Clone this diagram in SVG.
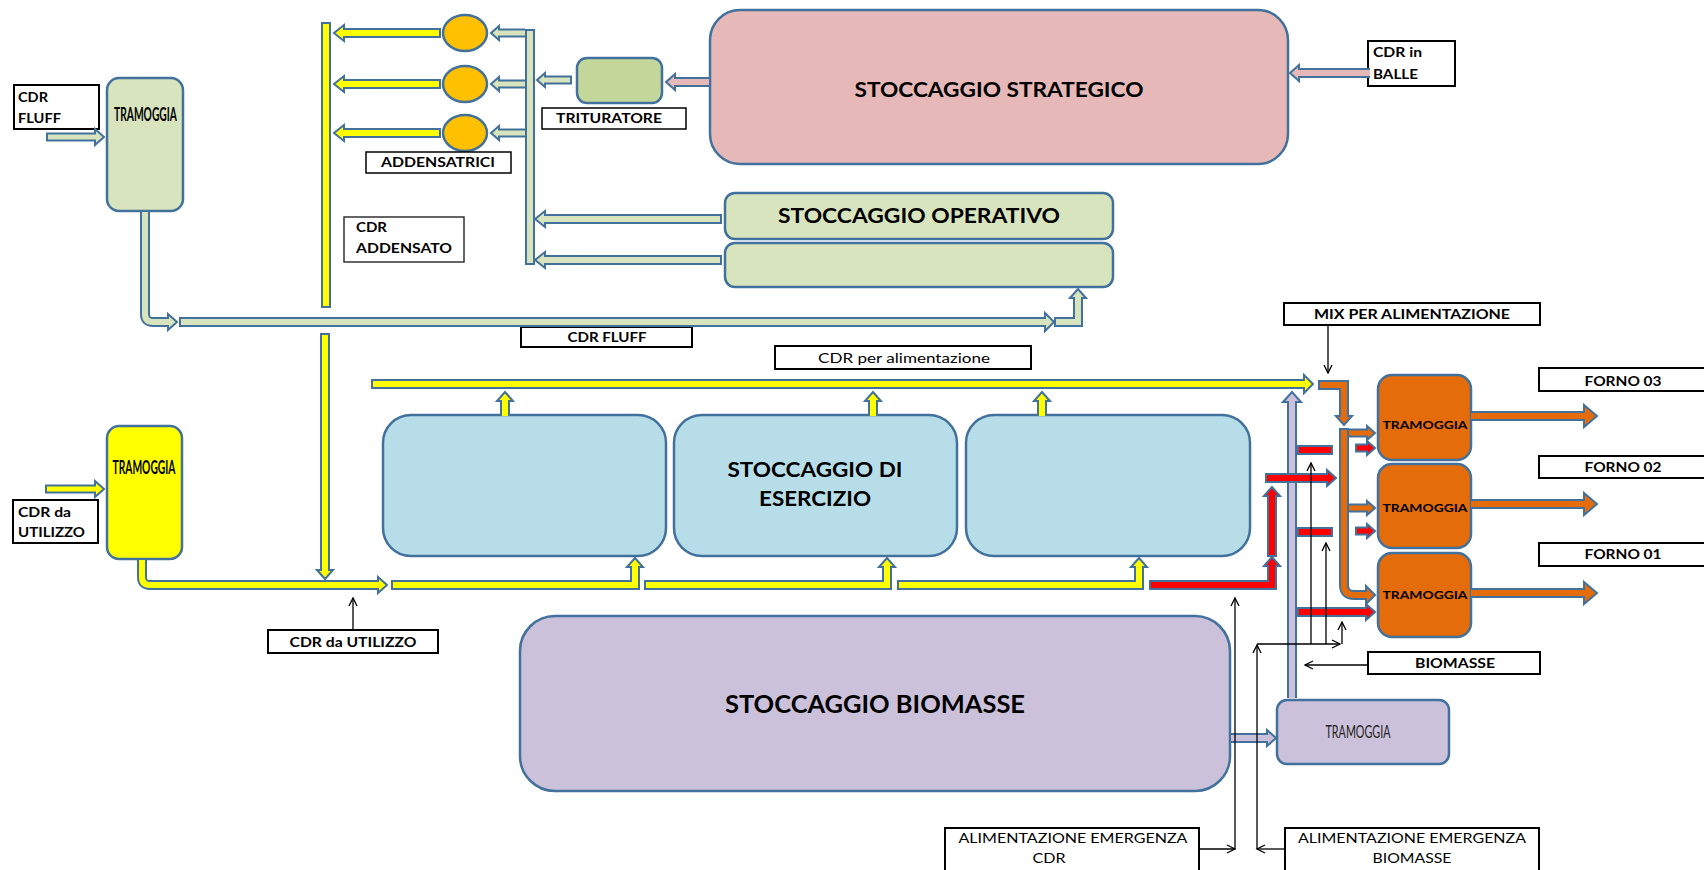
<svg xmlns="http://www.w3.org/2000/svg" width="1704" height="870" viewBox="0 0 1704 870">
<defs>
<marker id="ah" markerUnits="userSpaceOnUse" markerWidth="12" markerHeight="12" refX="9" refY="5" orient="auto"><path d="M1,1 L9,5 L1,9" fill="none" stroke="#000" stroke-width="1.3"/></marker>
</defs>
<style>
.nd{stroke:#41719c;stroke-width:2.5}
.lbl{fill:#fff;stroke:#000;stroke-width:2}
.t{font-family:Lato,"Open Sans","Liberation Sans",sans-serif;fill:#000;font-size:14px}
.b{font-weight:700}
.m{text-anchor:middle}
.o{fill:none;stroke:#41719c;stroke-width:10;stroke-linejoin:miter}
.os{fill:none;stroke:#41719c;stroke-width:9;stroke-linejoin:miter}
.i{fill:none;stroke-width:6;stroke-linejoin:miter}
.is{fill:none;stroke-width:5;stroke-linejoin:miter}
.h{stroke:#41719c;stroke-width:2;stroke-linejoin:miter}
.cy{stroke:#ffff00}.fy{fill:#ffff00}
.cg{stroke:#d7e4bd}.fg{fill:#d7e4bd}
.cp{stroke:#e6b8b7}.fp{fill:#e6b8b7}
.cr{stroke:#ff0000}.fr{fill:#ff0000}
.co{stroke:#e46c0a}.fo{fill:#e46c0a}
.cl{stroke:#ccc1da}.fl{fill:#ccc1da}
.thin{fill:none;stroke:#000;stroke-width:1.3;marker-end:url(#ah)}
</style>
<rect width="1704" height="870" fill="#fff"/>

<g id="cdr-fluff-in">
<rect class="lbl" x="14" y="85" width="85" height="44"/>
<text class="t b" x="18" y="102" textLength="30" lengthAdjust="spacingAndGlyphs">CDR</text>
<text class="t b" x="18" y="123" textLength="43" lengthAdjust="spacingAndGlyphs">FLUFF</text>
</g>
<g id="tramoggia-fluff">
<rect class="nd" x="107" y="78" width="76" height="133" rx="12" fill="#d7e4bd"/>
<text class="t b m" x="145.5" y="121" textLength="63" lengthAdjust="spacingAndGlyphs" style="font-size:18px">TRAMOGGIA</text>
</g>
<g id="addensatrici">
<ellipse class="nd" cx="465" cy="33" rx="22" ry="18" fill="#ffc000"/>
<ellipse class="nd" cx="465" cy="84" rx="22" ry="18" fill="#ffc000"/>
<ellipse class="nd" cx="465" cy="133" rx="22" ry="18" fill="#ffc000"/>
<rect class="lbl" x="366" y="152" width="145" height="21" style="stroke-width:1.5"/>
<text class="t b m" x="438" y="167" textLength="114" lengthAdjust="spacingAndGlyphs">ADDENSATRICI</text>
</g>
<g id="cdr-addensato">
<rect class="lbl" x="344" y="217" width="120" height="45" style="stroke:#333;stroke-width:1.5"/>
<text class="t b" x="356" y="232" textLength="31" lengthAdjust="spacingAndGlyphs">CDR</text>
<text class="t b" x="356" y="253" textLength="96" lengthAdjust="spacingAndGlyphs">ADDENSATO</text>
</g>
<g id="trituratore">
<rect class="nd" x="577" y="58" width="85" height="45" rx="10" fill="#c4d79b"/>
<rect class="lbl" x="542" y="108" width="144" height="21" style="stroke-width:1.5"/>
<text class="t b m" x="609" y="123" textLength="106" lengthAdjust="spacingAndGlyphs">TRITURATORE</text>
</g>
<g id="stoccaggio-strategico">
<rect class="nd" x="710" y="10" width="578" height="154" rx="30" fill="#e6b8b7"/>
<text class="t b m" x="999" y="97" textLength="289" lengthAdjust="spacingAndGlyphs" style="font-size:21px">STOCCAGGIO STRATEGICO</text>
</g>
<g id="cdr-balle">
<rect class="lbl" x="1368" y="41" width="87" height="45"/>
<text class="t b" x="1373" y="57" textLength="49" lengthAdjust="spacingAndGlyphs">CDR in</text>
<text class="t b" x="1373" y="79" textLength="45" lengthAdjust="spacingAndGlyphs">BALLE</text>
</g>
<g id="stoccaggio-operativo">
<rect class="nd" x="725" y="193" width="388" height="46" rx="10" fill="#d7e4bd"/>
<rect class="nd" x="725" y="243" width="388" height="44" rx="10" fill="#d7e4bd"/>
<text class="t b m" x="919" y="223" textLength="282" lengthAdjust="spacingAndGlyphs" style="font-size:20px">STOCCAGGIO OPERATIVO</text>
</g>
<g id="label-cdr-fluff">
<rect class="lbl" x="521" y="327" width="171" height="20"/>
<text class="t b m" x="607" y="342" textLength="79" lengthAdjust="spacingAndGlyphs" style="font-size:13px">CDR FLUFF</text>
</g>
<g id="label-cdr-alimentazione">
<rect class="lbl" x="775" y="346" width="256" height="23"/>
<text class="t m" x="904" y="363" textLength="172" lengthAdjust="spacingAndGlyphs" style="font-size:14px">CDR per alimentazione</text>
</g>
<g id="stoccaggio-esercizio">
<rect class="nd" x="383" y="415" width="283" height="141" rx="28" fill="#b7dee8"/>
<rect class="nd" x="674" y="415" width="283" height="141" rx="28" fill="#b7dee8"/>
<rect class="nd" x="966" y="415" width="284" height="141" rx="28" fill="#b7dee8"/>
<text class="t b m" x="815" y="477" textLength="175" lengthAdjust="spacingAndGlyphs" style="font-size:20px">STOCCAGGIO DI</text>
<text class="t b m" x="815" y="506" textLength="112" lengthAdjust="spacingAndGlyphs" style="font-size:20px">ESERCIZIO</text>
</g>
<g id="tramoggia-utilizzo">
<rect class="nd" x="107" y="426" width="75" height="133" rx="12" fill="#ffff00"/>
<text class="t b m" x="144" y="474" textLength="63" lengthAdjust="spacingAndGlyphs" style="font-size:18px">TRAMOGGIA</text>
</g>
<g id="cdr-utilizzo-in">
<rect class="lbl" x="13" y="500" width="85" height="43"/>
<text class="t b" x="18" y="517" textLength="53" lengthAdjust="spacingAndGlyphs">CDR da</text>
<text class="t b" x="18" y="537" textLength="67" lengthAdjust="spacingAndGlyphs">UTILIZZO</text>
</g>
<g id="label-cdr-utilizzo">
<rect class="lbl" x="268" y="630" width="170" height="23"/>
<text class="t b m" x="353" y="647" textLength="127" lengthAdjust="spacingAndGlyphs">CDR da UTILIZZO</text>
</g>
<g id="stoccaggio-biomasse">
<rect class="nd" x="520" y="616" width="710" height="175" rx="35" fill="#ccc1da"/>
<text class="t b m" x="875" y="713" textLength="300" lengthAdjust="spacingAndGlyphs" style="font-size:24px">STOCCAGGIO BIOMASSE</text>
</g>
<g id="tramoggia-biomasse">
<rect class="nd" x="1277" y="700" width="172" height="64" rx="10" fill="#ccc1da"/>
<text class="t m" x="1358" y="738" textLength="65" lengthAdjust="spacingAndGlyphs" style="font-size:17px;fill:#222">TRAMOGGIA</text>
</g>
<g id="mix-alimentazione">
<rect class="lbl" x="1284" y="303" width="256" height="22"/>
<text class="t b m" x="1412" y="319" textLength="196" lengthAdjust="spacingAndGlyphs" style="font-size:13px">MIX PER ALIMENTAZIONE</text>
</g>
<g id="forno-03">
<rect class="lbl" x="1539" y="368" width="170" height="23"/>
<text class="t b m" x="1623" y="386" textLength="77" lengthAdjust="spacingAndGlyphs">FORNO 03</text>
</g>
<g id="forno-02">
<rect class="lbl" x="1539" y="456" width="170" height="22"/>
<text class="t b m" x="1623" y="472" textLength="77" lengthAdjust="spacingAndGlyphs">FORNO 02</text>
</g>
<g id="forno-01">
<rect class="lbl" x="1539" y="543" width="170" height="23"/>
<text class="t b m" x="1623" y="559" textLength="77" lengthAdjust="spacingAndGlyphs">FORNO 01</text>
</g>
<g id="tramoggia-forno03">
<rect class="nd" x="1378" y="375" width="93" height="85" rx="14" fill="#e46c0a"/>
<text class="t b m" x="1425" y="429" textLength="85" lengthAdjust="spacingAndGlyphs" style="font-size:12px">TRAMOGGIA</text>
</g>
<g id="tramoggia-forno02">
<rect class="nd" x="1378" y="464" width="93" height="84" rx="14" fill="#e46c0a"/>
<text class="t b m" x="1425" y="512" textLength="85" lengthAdjust="spacingAndGlyphs" style="font-size:12px">TRAMOGGIA</text>
</g>
<g id="tramoggia-forno01">
<rect class="nd" x="1378" y="553" width="93" height="84" rx="14" fill="#e46c0a"/>
<text class="t b m" x="1425" y="599" textLength="85" lengthAdjust="spacingAndGlyphs" style="font-size:12px">TRAMOGGIA</text>
</g>
<g id="label-biomasse">
<rect class="lbl" x="1368" y="652" width="172" height="22"/>
<text class="t b m" x="1455" y="668" textLength="80" lengthAdjust="spacingAndGlyphs">BIOMASSE</text>
</g>
<g id="emergenza-cdr">
<rect class="lbl" x="945" y="828" width="254" height="46"/>
<text class="t m" x="1073" y="843" textLength="229" lengthAdjust="spacingAndGlyphs" style="font-size:13px">ALIMENTAZIONE EMERGENZA</text>
<text class="t m" x="1049" y="863" textLength="33" lengthAdjust="spacingAndGlyphs" style="font-size:13px">CDR</text>
</g>
<g id="emergenza-biomasse">
<rect class="lbl" x="1285" y="828" width="254" height="46"/>
<text class="t m" x="1412" y="843" textLength="228" lengthAdjust="spacingAndGlyphs" style="font-size:13px">ALIMENTAZIONE EMERGENZA</text>
<text class="t m" x="1412" y="863" textLength="79" lengthAdjust="spacingAndGlyphs" style="font-size:13px">BIOMASSE</text>
</g>

<g id="connectors">
<path class="os" d="M46 137H96"/><polygon class="h fg" points="95,129 104,137 95,145"/><path class="is cg" d="M48 137H97"/>
<path class="o" d="M145 212V314Q145 322 153 322H168"/><polygon class="h fg" points="168,314 177,322 168,330"/><path class="i cg" d="M145 212V314Q145 322 153 322H170"/>
<path class="o" d="M179 322H1045"/><polygon class="h fg" points="1045,313 1054,322 1045,331"/><path class="i cg" d="M181 322H1047"/>
<path class="o" d="M1054 322H1078V298"/><polygon class="h fg" points="1070,298 1078,289 1086,298"/><path class="i cg" d="M1056 322H1078V296"/>
<path class="o" d="M441 33H344"/><polygon class="h fy" points="344,25 334,33 344,41"/><path class="i cy" d="M439 33H342"/>
<path class="o" d="M441 84H344"/><polygon class="h fy" points="344,76 334,84 344,92"/><path class="i cy" d="M439 84H342"/>
<path class="o" d="M441 133H344"/><polygon class="h fy" points="344,125 334,133 344,141"/><path class="i cy" d="M439 133H342"/>
<rect x="322" y="23" width="8" height="284" fill="#ffff00" stroke="#41719c" stroke-width="2"/>
<path class="o" d="M325 333V570"/><polygon class="h fy" points="317,570 325,579 333,570"/><path class="i cy" d="M325 335V572"/>
<path class="os" d="M525 33H499"/><polygon class="h fg" points="499,26 491,33 499,40"/><path class="is cg" d="M525 33H497"/>
<path class="os" d="M525 84H499"/><polygon class="h fg" points="499,77 491,84 499,91"/><path class="is cg" d="M525 84H497"/>
<path class="os" d="M525 133H499"/><polygon class="h fg" points="499,126 491,133 499,140"/><path class="is cg" d="M525 133H497"/>
<path class="os" d="M572 80H545"/><polygon class="h fg" points="545,73 537,80 545,87"/><path class="is cg" d="M570 80H543"/>
<path class="o" d="M722 219H545"/><polygon class="h fg" points="545,211 535,219 545,227"/><path class="i cg" d="M720 219H543"/>
<path class="o" d="M722 260H545"/><polygon class="h fg" points="545,252 535,260 545,268"/><path class="i cg" d="M720 260H543"/>
<rect x="526" y="30" width="8" height="234" fill="#d7e4bd" stroke="#41719c" stroke-width="2"/>
<path class="o" d="M709 82H675"/><polygon class="h fp" points="675,74 666,82 675,90"/><path class="i cp" d="M709 82H673"/>
<path class="o" d="M1370 73H1299"/><polygon class="h fp" points="1299,65 1290,73 1299,81"/><path class="i cp" d="M1370 73H1297"/>
<path class="o" d="M371 384H1304"/><polygon class="h fy" points="1304,375 1313,384 1304,393"/><path class="i cy" d="M373 384H1306"/>
<path class="o" d="M505 416V401"/><polygon class="h fy" points="497,401 505,392 513,401"/><path class="i cy" d="M505 416V399"/>
<path class="o" d="M873 416V401"/><polygon class="h fy" points="865,401 873,392 881,401"/><path class="i cy" d="M873 416V399"/>
<path class="o" d="M1042 416V401"/><polygon class="h fy" points="1034,401 1042,392 1050,401"/><path class="i cy" d="M1042 416V399"/>
<path class="os" d="M45 489H96"/><polygon class="h fy" points="95,481 104,489 95,497"/><path class="is cy" d="M47 489H97"/>
<path class="o" d="M142 560V577Q142 585 150 585H378"/><polygon class="h fy" points="378,577 387,585 378,593"/><path class="i cy" d="M142 560V577Q142 585 150 585H380"/>
<path class="o" d="M391 585H635V567"/><polygon class="h fy" points="627,567 635,558 643,567"/><path class="i cy" d="M393 585H635V565"/>
<path class="o" d="M644 585H887V567"/><polygon class="h fy" points="879,567 887,558 895,567"/><path class="i cy" d="M646 585H887V565"/>
<path class="o" d="M897 585H1139V567"/><polygon class="h fy" points="1131,567 1139,558 1147,567"/><path class="i cy" d="M899 585H1139V565"/>
<path class="o" d="M1231 738H1268"/><polygon class="h fl" points="1267,730 1276,738 1267,746"/><path class="i cl" d="M1231 738H1269"/>
<path class="o" d="M1292 698V402"/><polygon class="h fl" points="1283,402 1292,392 1301,402"/><path class="i cl" d="M1292 698V400"/>
<path class="o" d="M1149 585H1272V566"/><polygon class="h fr" points="1264,566 1272,557 1280,566"/><path class="i cr" d="M1151 585H1272V564"/>
<path class="o" d="M1272 557V496"/><polygon class="h fr" points="1264,496 1272,487 1280,496"/><path class="i cr" d="M1272 555V494"/>
<path class="o" d="M1265 478H1327"/><polygon class="h fr" points="1327,470 1336,478 1327,486"/><path class="i cr" d="M1267 478H1329"/>
<rect x="1298" y="446" width="34" height="8" fill="#ff0000" stroke="#41719c" stroke-width="2"/>
<rect x="1298" y="528" width="34" height="8" fill="#ff0000" stroke="#41719c" stroke-width="2"/>
<path class="o" d="M1297 612H1366"/><polygon class="h fr" points="1366,604 1375,612 1366,620"/><path class="i cr" d="M1299 612H1368"/>
<path class="os" d="M1355 448H1368"/><polygon class="h fr" points="1367,441 1375,448 1367,455"/><path class="is cr" d="M1357 448H1369"/>
<path class="os" d="M1355 531H1368"/><polygon class="h fr" points="1367,524 1375,531 1367,538"/><path class="is cr" d="M1357 531H1369"/>
<path class="o" d="M1318 385H1344V416"/><polygon class="h fo" points="1336,416 1344,425 1352,416"/><path class="i co" d="M1320 385H1344V418"/>
<path class="o" d="M1344 428V585Q1344 595 1354 595H1366"/><polygon class="h fo" points="1366,586 1375,595 1366,604"/><path class="i co" d="M1344 430V585Q1344 595 1354 595H1368"/>
<path class="os" d="M1349 433H1368"/><polygon class="h fo" points="1367,426 1375,433 1367,440"/><path class="is co" d="M1349 433H1369"/>
<path class="os" d="M1349 508H1368"/><polygon class="h fo" points="1367,501 1375,508 1367,515"/><path class="is co" d="M1349 508H1369"/>
<path class="o" d="M1471 416H1584"/><polygon class="h fo" points="1584,405 1597,416 1584,427"/><path class="i co" d="M1471 416H1586"/>
<path class="o" d="M1471 504H1584"/><polygon class="h fo" points="1584,493 1597,504 1584,515"/><path class="i co" d="M1471 504H1586"/>
<path class="o" d="M1471 593H1584"/><polygon class="h fo" points="1584,582 1597,593 1584,604"/><path class="i co" d="M1471 593H1586"/>
<path class="thin" d="M353 630V598"/>
<path class="thin" d="M1328 325V373"/>
<path class="thin" d="M1199 849H1235"/>
<path class="thin" d="M1235 849V598"/>
<path class="thin" d="M1285 849H1257"/>
<path class="thin" d="M1257 849V645"/>
<path class="thin" d="M1257 644H1340"/>
<path class="thin" d="M1311 644V463"/>
<path class="thin" d="M1326 644V543"/>
<path class="thin" d="M1342 644V622"/>
<path class="thin" d="M1368 665H1305"/>
</g>
</svg>
